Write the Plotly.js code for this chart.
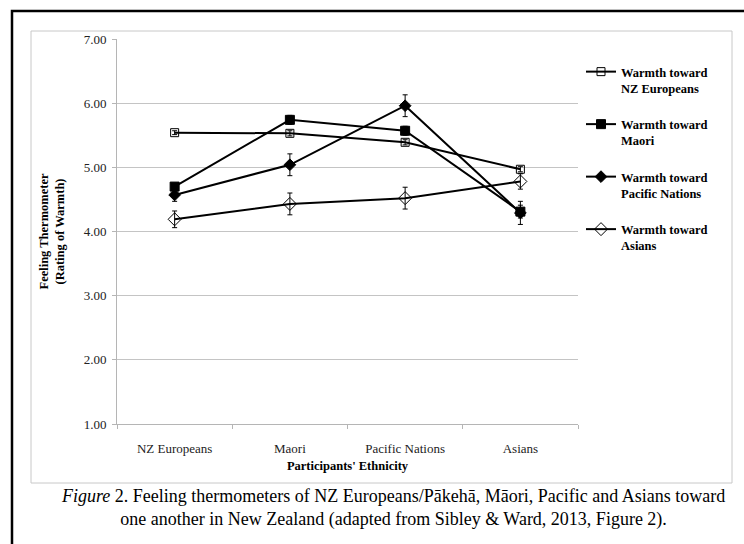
<!DOCTYPE html>
<html>
<head>
<meta charset="utf-8">
<script src="https://cdn.plot.ly/plotly-3.0.1.min.js"></script>
<style>html,body{margin:0;padding:0;background:#fff;}#chart{width:744px;height:544px;}</style>
</head>
<body>
<div id="chart"></div>
<script>
// ---- data ----
const categories = ["NZ Europeans", "Maori", "Pacific Nations", "Asians"];
const seriesNames = ["Warmth toward<br>NZ Europeans", "Warmth toward<br>Maori", "Warmth toward<br>Pacific Nations", "Warmth toward<br>Asians"];
const warmthNZE = [5.54, 5.53, 5.39, 4.97];
const errNZE = [0.03, 0.04, 0.04, 0.04];
const warmthMaori = [4.70, 5.74, 5.57, 4.31];
const errMaori = [0.05, 0.07, 0.07, 0.10];
const warmthPacific = [4.57, 5.04, 5.96, 4.29];
const errPacific = [0.10, 0.17, 0.17, 0.18];
const warmthAsians = [4.19, 4.43, 4.52, 4.78];
const errAsians = [0.13, 0.17, 0.17, 0.12];
const yTickVals = [1, 2, 3, 4, 5, 6, 7];
const yTickText = ["1.00", "2.00", "3.00", "4.00", "5.00", "6.00", "7.00"];
const yTitle = "Feeling Thermometer<br>(Rating of Warmth)";
const xTitle = "Participants' Ethnicity";
const caption = "<i>Figure</i> 2. Feeling thermometers of NZ Europeans/Pākehā, Māori, Pacific and Asians toward<br>one another in New Zealand (adapted from Sibley &amp; Ward, 2013, Figure 2).";

// ---- build ----
const W = 744, H = 544;
const px = v => v / W;
const py = v => 1 - v / H;
const serif = "'Liberation Serif', 'Times New Roman', Times, serif";

const values = [warmthNZE, warmthMaori, warmthPacific, warmthAsians];
const errs = [errNZE, errMaori, errPacific, errAsians];
const symbols = ["square-open", "square", "diamond", "diamond-open"];
const sizes = [8, 9, 9, 10];

const traces = values.map((v, i) => ({
  type: "scatter",
  mode: "lines+markers",
  x: categories,
  y: v,
  name: seriesNames[i],
  legendgroup: "g" + i,
  line: {color: "#000", width: 2},
  marker: {symbol: symbols[i], size: sizes[i], color: "#000", line: {color: "#000", width: 1}},
  error_y: {type: "data", array: errs[i], visible: true, color: "#000", thickness: 1, width: 2.5}
}));

const layout = {
  width: W, height: H,
  margin: {l: 0, r: 0, t: 0, b: 0},
  paper_bgcolor: "#fff",
  plot_bgcolor: "#fff",
  font: {family: serif, color: "#000"},
  showlegend: true,
  legend: {
    x: px(581), y: py(57), xanchor: "left", yanchor: "top",
    font: {family: serif, size: 12.5, color: "#000", weight: "bold"},
    tracegroupgap: 17, valign: "top", itemwidth: 30,
    bgcolor: "rgba(0,0,0,0)"
  },
  xaxis: {
    domain: [px(117), px(578)],
    type: "category",
    range: [-0.5, 3.5],
    showgrid: false,
    showline: true, linecolor: "#b5b5b5", linewidth: 1,
    ticks: "outside", tickson: "boundaries", ticklen: 4, tickcolor: "#b5b5b5",
    tickfont: {family: serif, size: 13, color: "#222"},
    ticklabelstandoff: 12,
    zeroline: false, fixedrange: true,
    title: {text: xTitle, font: {family: serif, size: 12.5, color: "#000", weight: "bold"}, standoff: 6}
  },
  yaxis: {
    domain: [py(424), py(39)],
    range: [1, 7],
    tickvals: yTickVals, ticktext: yTickText,
    showgrid: true, gridcolor: "#c4c4c4", gridwidth: 1,
    showline: true, linecolor: "#b5b5b5", linewidth: 1,
    ticks: "outside", ticklen: 4, tickcolor: "#b5b5b5",
    tickfont: {family: serif, size: 13, color: "#222"},
    ticklabelstandoff: 3,
    zeroline: false, fixedrange: true,
    title: {text: yTitle, font: {family: serif, size: 12.5, color: "#000", weight: "bold"}, standoff: 16}
  },
  shapes: [
    {type: "rect", xref: "paper", yref: "paper", x0: px(12), x1: px(760), y0: py(560), y1: py(11), line: {color: "#000", width: 2.5}, layer: "below"},
    {type: "rect", xref: "paper", yref: "paper", x0: px(31), x1: px(732), y0: py(483), y1: py(31), line: {color: "#c8c8c8", width: 1}, layer: "below"}
  ],
  annotations: [
    {xref: "paper", yref: "paper", x: px(393), y: py(508), xanchor: "center", yanchor: "middle", showarrow: false, align: "center",
     text: caption, font: {family: serif, size: 18, color: "#000"}}
  ]
};

Plotly.newPlot("chart", traces, layout, {displayModeBar: false, staticPlot: true});
</script>
</body>
</html>
